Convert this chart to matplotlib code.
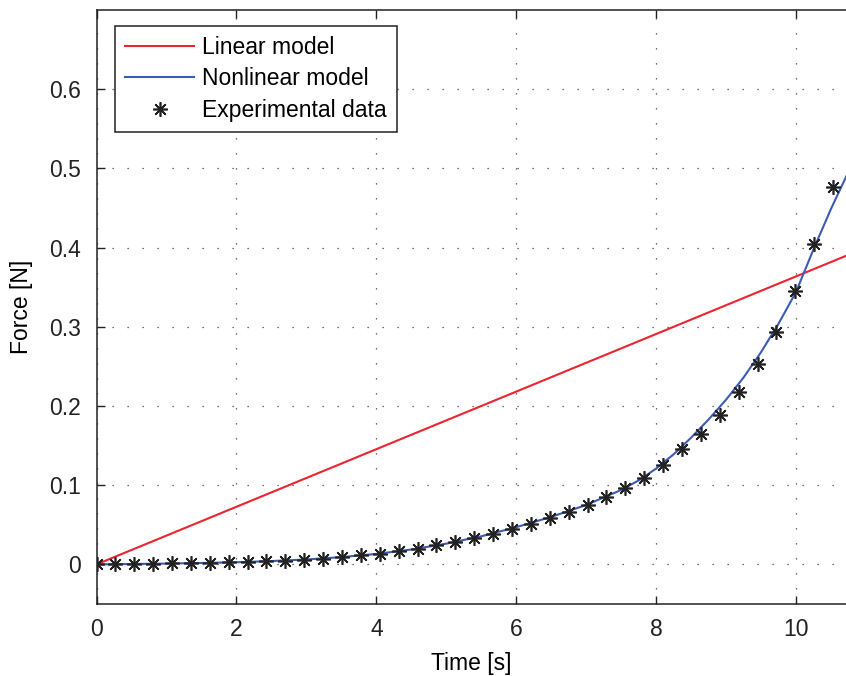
import matplotlib
matplotlib.use("Agg")
import matplotlib.pyplot as plt

plt.rcParams['font.family'] = ['Liberation Sans', 'DejaVu Sans']

# Experimental samples: time [s] and measured force [N]
t_exp = [0.00, 0.27, 0.54, 0.81, 1.08, 1.35, 1.62, 1.89, 2.16, 2.43,
         2.70, 2.97, 3.24, 3.51, 3.78, 4.05, 4.32, 4.59, 4.86, 5.13,
         5.40, 5.67, 5.94, 6.21, 6.48, 6.75, 7.02, 7.29, 7.56, 7.83,
         8.10, 8.37, 8.64, 8.91, 9.18, 9.45, 9.72, 9.99, 10.26, 10.53]
f_exp = [0.0000, 0.0003, 0.0006, 0.0009, 0.0012, 0.0016, 0.0020, 0.0025, 0.0031, 0.0038,
         0.0046, 0.0056, 0.0072, 0.0092, 0.0114, 0.0135, 0.0164, 0.0198, 0.0240, 0.0282,
         0.0332, 0.0388, 0.0450, 0.0505, 0.0585, 0.0657, 0.0754, 0.0850, 0.0968, 0.1095,
         0.1260, 0.1460, 0.1650, 0.1890, 0.2176, 0.2525, 0.2933, 0.3447, 0.4050, 0.4764]

# Linear model
t_lin = [0.0, 11.0]
f_lin = [0.0, 0.40]

# Nonlinear model
t_nl = [0.0, 0.5, 1.0, 1.5, 2.0, 2.5, 3.0, 3.5, 4.0, 4.5, 5.0, 5.5, 6.0, 6.5,
        7.0, 7.5, 7.75, 8.0, 8.25, 8.5, 8.75, 9.0, 9.25, 9.5, 9.75, 10.0,
        10.25, 10.5, 10.75]
f_nl = [0.0, 0.0005, 0.0010, 0.0018, 0.0027, 0.0042, 0.0062, 0.0092, 0.0132,
        0.0188, 0.0262, 0.0355, 0.0470, 0.0600, 0.0750, 0.0940, 0.1060, 0.1210,
        0.1390, 0.1600, 0.1830, 0.2080, 0.2360, 0.2680, 0.3040, 0.3440, 0.3980,
        0.4490, 0.4960]

x_ticks = [0, 2, 4, 6, 8, 10]
y_ticks = [0, 0.1, 0.2, 0.3, 0.4, 0.5, 0.6]
y_ticklabels = ['0', '0.1', '0.2', '0.3', '0.4', '0.5', '0.6']

fig = plt.figure(figsize=(8.46, 6.76), dpi=100)
ax = fig.add_axes([96.5 / 846, 72 / 676, 1 - 96.5 / 846, 594 / 676])

ax.plot(t_lin, f_lin, color='#ec2430', lw=1.5, label='Linear model', zorder=3)
ax.plot(t_nl, f_nl, color='#3b5cb2', lw=1.5, label='Nonlinear model', zorder=4)
ax.plot(t_exp, f_exp, linestyle='none', marker=(8, 2, 0), markersize=10.5,
        markeredgewidth=1.2, color='#222222', label='Experimental data', zorder=5)

ax.set_xlim(0, 10.714)
ax.set_ylim(-0.05, 0.70)
ax.set_xticks(x_ticks)
ax.set_xticklabels([str(v) for v in x_ticks])
ax.set_yticks(y_ticks)
ax.set_yticklabels(y_ticklabels)

ax.grid(True, color='#444444', linestyle=(0, (1, 11)), linewidth=0.9)
ax.spines['right'].set_visible(False)
for s in ('left', 'bottom', 'top'):
    ax.spines[s].set_linewidth(1.1)
    ax.spines[s].set_color('#222222')

ax.tick_params(direction='in', length=6, width=1.0, top=True, right=False,
               labelsize=16.5, pad=10, colors='#222222')
ax.tick_params(axis='y', pad=11)

ax.set_xlabel('Time [s]', fontsize=16.5, labelpad=8)
ax.set_ylabel('Force [N]', fontsize=16.5, labelpad=12)

leg = ax.legend(loc='upper left', bbox_to_anchor=(0.0247, 0.9736), borderaxespad=0,
                fontsize=16.5, handlelength=3.0, handletextpad=0.35, labelspacing=0.37,
                borderpad=0.45, numpoints=1, fancybox=False, framealpha=1)
leg.get_frame().set_edgecolor('#222222')
leg.get_frame().set_linewidth(1.1)

fig.savefig('out.png', dpi=100)
